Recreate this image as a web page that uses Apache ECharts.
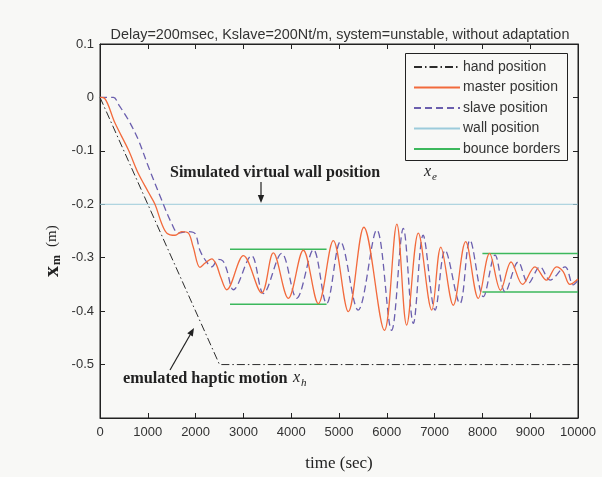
<!DOCTYPE html>
<html>
<head>
<meta charset="utf-8">
<script src="https://cdn.jsdelivr.net/npm/echarts@6/dist/echarts.min.js"></script>
<style>
  html, body { margin: 0; padding: 0; background: #f8f8f6; }
  #chart { width: 602px; height: 477px; }
</style>
</head>
<body>
<div id="chart"></div>
<script>
// Time axis in the simulation (sec), position in metres
const xTickValues = [0, 1000, 2000, 3000, 4000, 5000, 6000, 7000, 8000, 9000, 10000];
const yTickValues = [0.1, 0, -0.1, -0.2, -0.3, -0.4, -0.5, -0.6];

// Operator hand: ramps down then holds
const handTime = [0, 2500, 10000];
const handPos = [0, -0.5, -0.5];

// Master device position
const masterTime = [0, 100, 314, 593, 800, 1010, 1150, 1290, 1400, 1570, 1710, 1850, 1950, 2090, 2200, 2337, 2430, 2520, 2650,
  3000, 3383, 3625, 3940, 4253, 4567, 4881, 5195, 5520, 5950, 6210, 6415, 6660, 6940, 7130, 7390, 7650, 7915,
  8150, 8380, 8600, 8840, 9100, 9340, 9550, 9690, 9830, 10000];
const masterPos = [0, -0.002, -0.048, -0.098, -0.142, -0.177, -0.2, -0.236, -0.254, -0.258, -0.251, -0.254, -0.28, -0.318, -0.31, -0.302, -0.312, -0.335, -0.36,
  -0.296, -0.366, -0.291, -0.376, -0.286, -0.386, -0.268, -0.401, -0.243, -0.436, -0.237, -0.426, -0.254, -0.398, -0.28, -0.389, -0.27, -0.376,
  -0.292, -0.361, -0.308, -0.35, -0.317, -0.342, -0.317, -0.326, -0.35, -0.34];

// Slave device position
const slaveTime = [0, 280, 400, 593, 800, 1010, 1290, 1500, 1640, 1850, 1990, 2090, 2230, 2340, 2475, 2570, 2650, 2790,
  3170, 3420, 3800, 4115, 4465, 4740, 5030, 5400, 5790, 6100, 6345, 6555, 6760, 7010, 7220, 7530, 7740, 8020,
  8265, 8475, 8750, 8960, 9205, 9415, 9730, 9900, 10000];
const slavePos = [0, 0, -0.015, -0.042, -0.079, -0.129, -0.192, -0.236, -0.254, -0.251, -0.255, -0.286, -0.308, -0.317, -0.303, -0.306, -0.322, -0.36,
  -0.296, -0.367, -0.292, -0.376, -0.285, -0.386, -0.27, -0.398, -0.248, -0.436, -0.245, -0.423, -0.258, -0.398, -0.286, -0.386, -0.267, -0.373,
  -0.295, -0.364, -0.308, -0.348, -0.317, -0.342, -0.317, -0.351, -0.342];

// Virtual wall
const wallTime = [0, 10000];
const wallPos = [-0.2, -0.2];

// Bounce borders: two time windows, each with an upper and lower bound
const bounceStart = [2720, 8000];
const bounceEnd = [4740, 10000];
const bounceUpper = [-0.284, -0.292];
const bounceLower = [-0.387, -0.364];

const zip = (ts, vs) => ts.map((t, i) => [t, vs[i]]);

const bounceData = [];
bounceStart.forEach((s, i) => {
  bounceData.push([s, bounceUpper[i]], [bounceEnd[i], bounceUpper[i]], [bounceEnd[i], '-']);
  bounceData.push([s, bounceLower[i]], [bounceEnd[i], bounceLower[i]], [bounceEnd[i], '-']);
});

const BG = '#f8f8f6';
const INK = '#222';
const SANS = '"Liberation Sans", Arial, sans-serif';
const SERIF = '"Liberation Serif", "Times New Roman", serif';

const chart = echarts.init(document.getElementById('chart'), null, { renderer: 'canvas' });

const xLabel = v => String(Math.round(v));
const yLabel = v => {
  const r = Math.round(v * 10) / 10;
  if (r === yTickValues[yTickValues.length - 1]) return '';
  return r === 0 ? '0' : String(r);
};

function arrow(x1, y1, x2, y2) {
  const ang = Math.atan2(y2 - y1, x2 - x1);
  const L = 8, W = 3.2;
  const bx = x2 - L * Math.cos(ang), by = y2 - L * Math.sin(ang);
  const px = -Math.sin(ang) * W, py = Math.cos(ang) * W;
  return [
    { type: 'line', z: 50, shape: { x1, y1, x2: bx, y2: by }, style: { stroke: INK, lineWidth: 1.2 } },
    { type: 'polygon', z: 50, shape: { points: [[x2, y2], [bx + px, by + py], [bx - px, by - py]] }, style: { fill: INK } }
  ];
}

function label(x, y, text, size, weight, italic, family) {
  return {
    type: 'text', z: 50, x, y,
    style: {
      text, fill: INK, fontFamily: family || SERIF, fontSize: size,
      fontWeight: weight, fontStyle: italic ? 'italic' : 'normal', verticalAlign: 'middle'
    }
  };
}

const frameAxis = {
  axisLine: { show: true, onZero: false, lineStyle: { color: INK } },
  axisTick: { show: true, inside: true, length: 5, lineStyle: { color: INK } },
  splitLine: { show: false }
};

chart.setOption({
  backgroundColor: BG,
  animation: false,
  title: {
    text: 'Delay=200msec, Kslave=200Nt/m, system=unstable, without adaptation',
    left: 335, top: 23, textAlign: 'center',
    textStyle: { fontFamily: SANS, fontSize: 14.4, fontWeight: 'normal', color: '#333' }
  },
  grid: { left: 100, right: 24, top: 44, bottom: 59, show: true, borderColor: INK, borderWidth: 1, backgroundColor: BG },
  legend: {
    orient: 'vertical', left: 413, top: 60,
    itemWidth: 46, itemHeight: 14, itemGap: 6.5, padding: 0,
    itemStyle: { opacity: 0 },
    textStyle: { fontFamily: SANS, fontSize: 14, lineHeight: 14, color: '#333', padding: [0, 0, 0, -2] },
    data: ['hand position', 'master position', 'slave position', 'wall position', 'bounce borders']
  },
  xAxis: [Object.assign({
    type: 'value', min: 0, max: 10000, interval: 1000, position: 'bottom',
    name: 'time (sec)', nameLocation: 'middle', nameGap: 37,
    nameTextStyle: { fontFamily: SERIF, fontSize: 17, color: INK },
    axisLabel: { fontFamily: SANS, fontSize: 13, color: '#333', margin: 8, formatter: xLabel }
  }, frameAxis), Object.assign({
    type: 'value', min: 0, max: 10000, interval: 1000, position: 'top',
    axisLabel: { show: false }
  }, frameAxis)],
  yAxis: [Object.assign({
    type: 'value', min: -0.6, max: 0.1, interval: 0.1, position: 'left',
    axisLabel: { fontFamily: SANS, fontSize: 13, color: '#333', margin: 6, formatter: yLabel }
  }, frameAxis), Object.assign({
    type: 'value', min: -0.6, max: 0.1, interval: 0.1, position: 'right',
    axisLabel: { show: false }
  }, frameAxis)],
  series: [
    {
      name: 'hand position', type: 'line', symbol: 'none', z: 3,
      data: zip(handTime, handPos),
      lineStyle: { color: '#2b2b2b', width: 1, type: [8, 3, 1.5, 3] },
      itemStyle: { color: '#2b2b2b' }
    },
    {
      name: 'wall position', type: 'line', symbol: 'none', z: 2,
      data: zip(wallTime, wallPos),
      lineStyle: { color: '#9ccbdb', width: 1 }, itemStyle: { color: '#9ccbdb' }
    },
    {
      name: 'bounce borders', type: 'line', symbol: 'none', z: 2, connectNulls: false,
      data: bounceData,
      lineStyle: { color: '#3cb85c', width: 1.5 }, itemStyle: { color: '#3cb85c' }
    },
    {
      name: 'slave position', type: 'line', symbol: 'none', z: 4, smooth: 0.35,
      data: zip(slaveTime, slavePos),
      lineStyle: { color: '#6b5fae', width: 1.3, type: [7, 4] }, itemStyle: { color: '#6b5fae' }
    },
    {
      name: 'master position', type: 'line', symbol: 'none', z: 5, smooth: 0.35,
      data: zip(masterTime, masterPos),
      lineStyle: { color: '#f26a3c', width: 1.3 }, itemStyle: { color: '#f26a3c' }
    }
  ],
  graphic: [
    // legend frame
    { type: 'rect', z: 1, shape: { x: 405.5, y: 53.5, width: 162, height: 107 }, style: { fill: BG, stroke: INK, lineWidth: 1 } },
    // y-axis title, rotated to read bottom-to-top
    {
      type: 'group', x: 52, y: 277, rotation: Math.PI / 2,
      children: [
        label(0, 0, 'x', 22, 'bold', false),
        label(12, 5, 'm', 12, 'bold', false),
        label(30, 0, '(m)', 15, 'normal', false)
      ]
    },
    // wall annotation
    label(170, 173, 'Simulated virtual wall position', 16, 'bold', false),
    label(424, 172, 'x', 16, 'normal', true),
    label(432, 177, 'e', 11, 'normal', true),
    ...arrow(261, 182, 261, 203),
    // hand motion annotation
    label(123, 379, 'emulated haptic motion', 16.3, 'bold', false),
    label(293, 378, 'x', 16, 'normal', true),
    label(301, 383, 'h', 11, 'normal', true),
    ...arrow(170, 370, 194, 328)
  ]
});
</script>
</body>
</html>
